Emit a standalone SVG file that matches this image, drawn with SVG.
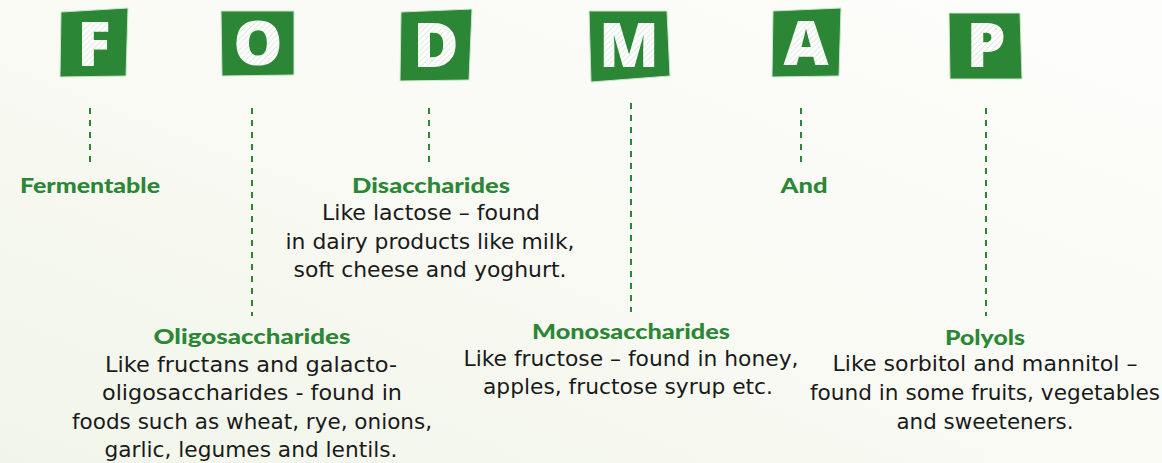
<svg xmlns="http://www.w3.org/2000/svg" width="1162" height="463" viewBox="0 0 1162 463">
<defs>
<linearGradient id="bg" x1="0" y1="1" x2="1" y2="0">
<stop offset="0" stop-color="#f1f5e9"/>
<stop offset="0.5" stop-color="#f9faf4"/>
<stop offset="1" stop-color="#fdfdfb"/>
</linearGradient>
<pattern id="hatch" width="4" height="4" patternUnits="userSpaceOnUse" patternTransform="rotate(45)">
<rect width="4" height="4" fill="#ffffff"/>
<line x1="0" y1="0" x2="0" y2="4" stroke="#b9d9b9" stroke-width="1"/>
</pattern>
<style>
.box{fill:#2b8735;stroke:#cfe6cf;stroke-width:1}
.let{font-family:"Open Sans","Noto Sans",sans-serif;font-weight:800;font-size:62px;fill:url(#hatch);text-anchor:middle}
.dash{stroke:#2b8735;stroke-width:2;stroke-dasharray:6 6;fill:none}
.head{font-family:Lato,"DejaVu Sans",sans-serif;font-weight:900;font-size:21px;fill:#2b8735;text-anchor:middle}
.body{font-family:"DejaVu Sans","Noto Sans",sans-serif;font-size:21.5px;fill:#1a1a1a;text-anchor:middle}
</style>
</defs>
<rect width="1162" height="463" fill="url(#bg)"/>
<g id="connectors">
<line class="dash" x1="90" y1="108" x2="90" y2="162"/>
<line class="dash" x1="252" y1="108" x2="252" y2="316"/>
<line class="dash" x1="429" y1="108" x2="429" y2="162"/>
<line class="dash" x1="631" y1="103" x2="631" y2="312"/>
<line class="dash" x1="801" y1="108" x2="801" y2="162"/>
<line class="dash" x1="986" y1="108" x2="986" y2="316"/>
</g>
<g id="node-F">
<polygon class="box" points="61,12 128,8 126,76 60,77"/>
<text class="let" x="94" y="66">F</text>
<text class="head" x="90" y="193" textLength="140" lengthAdjust="spacingAndGlyphs">Fermentable</text>
</g>
<g id="node-O">
<polygon class="box" points="221,11 294,11 294,75 222,76"/>
<text class="let" x="258" y="65">O</text>
<text class="head" x="252" y="344" textLength="197" lengthAdjust="spacingAndGlyphs">Oligosaccharides</text>
<text class="body" x="251" y="372" textLength="292" lengthAdjust="spacingAndGlyphs">Like fructans and galacto-</text>
<text class="body" x="252" y="400" textLength="300" lengthAdjust="spacingAndGlyphs">oligosaccharides - found in</text>
<text class="body" x="252" y="429" textLength="360" lengthAdjust="spacingAndGlyphs">foods such as wheat, rye, onions,</text>
<text class="body" x="251" y="457" textLength="293" lengthAdjust="spacingAndGlyphs">garlic, legumes and lentils.</text>
</g>
<g id="node-D">
<polygon class="box" points="401,12 472,9 469,80 400,81"/>
<text class="let" x="436" y="67">D</text>
<text class="head" x="431" y="193" textLength="158" lengthAdjust="spacingAndGlyphs">Disaccharides</text>
<text class="body" x="431" y="220" textLength="218" lengthAdjust="spacingAndGlyphs">Like lactose – found</text>
<text class="body" x="430" y="249" textLength="289" lengthAdjust="spacingAndGlyphs">in dairy products like milk,</text>
<text class="body" x="430" y="277" textLength="273" lengthAdjust="spacingAndGlyphs">soft cheese and yoghurt.</text>
</g>
<g id="node-M">
<polygon class="box" points="589,11 667,11 670,76 591,82"/>
<text class="let" x="629" y="67">M</text>
<text class="head" x="631" y="339" textLength="198" lengthAdjust="spacingAndGlyphs">Monosaccharides</text>
<text class="body" x="631" y="366" textLength="335" lengthAdjust="spacingAndGlyphs">Like fructose – found in honey,</text>
<text class="body" x="628" y="394" textLength="290" lengthAdjust="spacingAndGlyphs">apples, fructose syrup etc.</text>
</g>
<g id="node-A">
<polygon class="box" points="773,11 841,8 839,76 772,77"/>
<text class="let" x="806" y="65">A</text>
<text class="head" x="804" y="193" textLength="47" lengthAdjust="spacingAndGlyphs">And</text>
</g>
<g id="node-P">
<polygon class="box" points="949,13 1020,13 1022,79 950,79"/>
<text class="let" x="986" y="67">P</text>
<text class="head" x="985" y="345" textLength="80" lengthAdjust="spacingAndGlyphs">Polyols</text>
<text class="body" x="985" y="371" textLength="305" lengthAdjust="spacingAndGlyphs">Like sorbitol and mannitol –</text>
<text class="body" x="985" y="400" textLength="350" lengthAdjust="spacingAndGlyphs">found in some fruits, vegetables</text>
<text class="body" x="985" y="429" textLength="177" lengthAdjust="spacingAndGlyphs">and sweeteners.</text>
</g>
</svg>
